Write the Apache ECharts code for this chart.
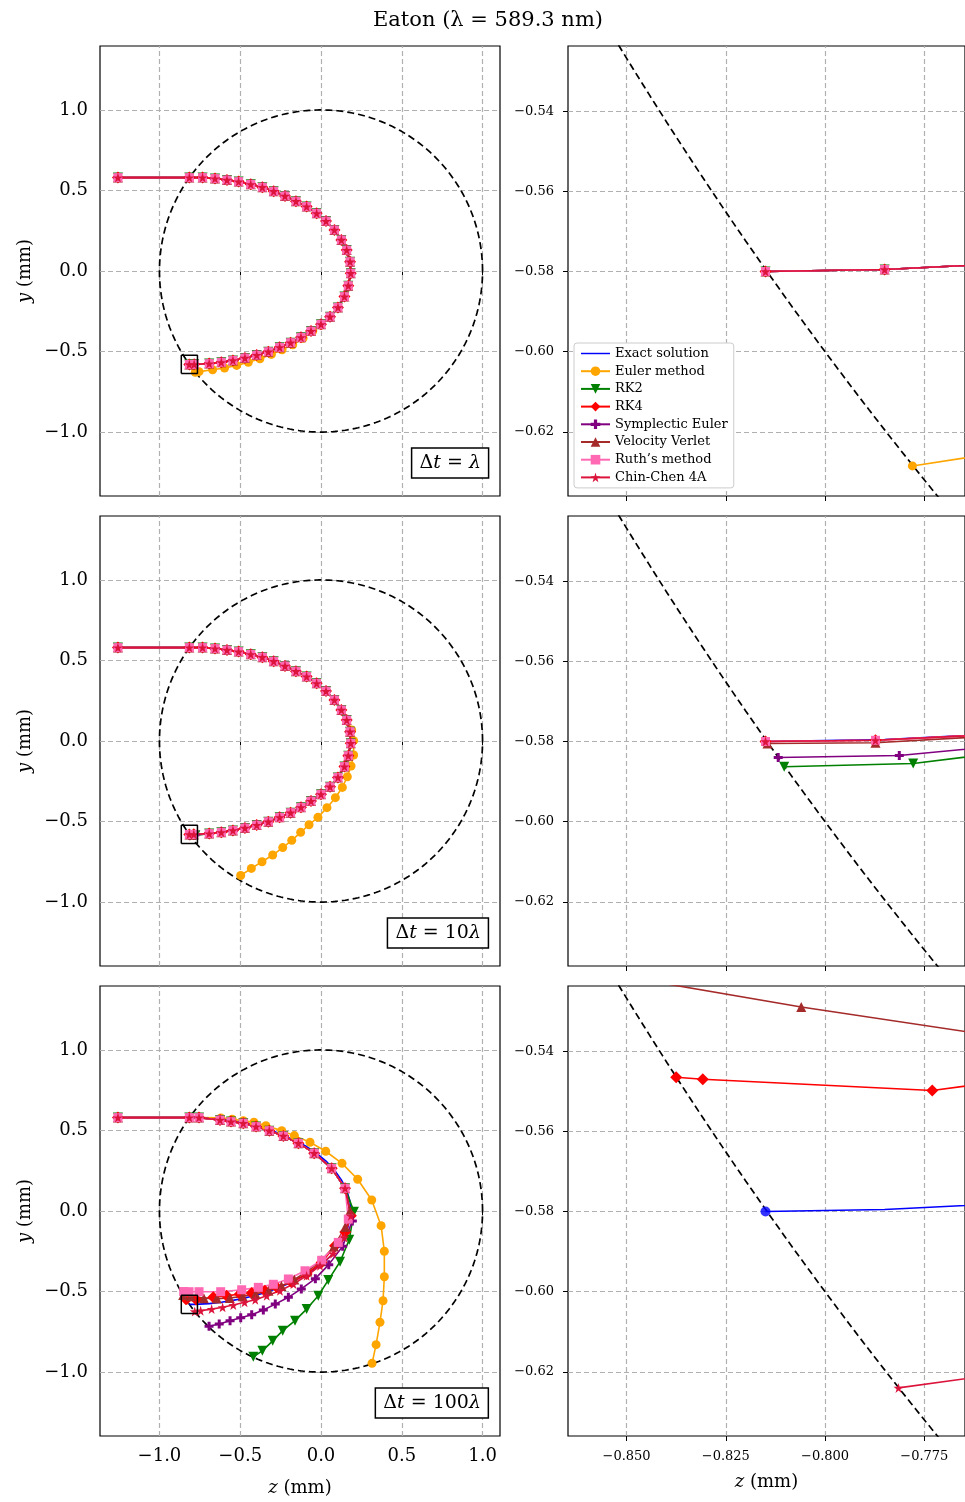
<!DOCTYPE html>
<html><head><meta charset="utf-8">
<script src="https://cdn.jsdelivr.net/npm/echarts@6/dist/echarts.min.js"></script>
<style>html,body{margin:0;padding:0;background:#fff}#c{width:965px;height:1502px}</style>
</head><body><div id="c"></div>
<script>
// ---------------- data ----------------
const METHOD_NAMES = ['Exact solution','Euler method','RK2','RK4','Symplectic Euler','Velocity Verlet','Ruth\u2019s method','Chin-Chen 4A'];
const METHOD_COLORS = ['#0000ff','#ffa500','#008000','#ff0000','#800080','#a52a2a','#ff69b4','#dc143c'];
const DT_LABELS = ['\u03bb','10\u03bb','100\u03bb'];

const LEFT_X_TICKS = [-1.0,-0.5,0.0,0.5,1.0];
const LEFT_Y_TICKS = [-1.0,-0.5,0.0,0.5,1.0];
const RIGHT_X_TICKS = [-0.850,-0.825,-0.800,-0.775];
const RIGHT_Y_TICKS = [-0.62,-0.60,-0.58,-0.56,-0.54];
const LEFT_X_RANGE = [-1.368, 1.108];
const LEFT_Y_RANGE = [-1.397, 1.397];
const ZOOM_Z = [-0.86475, -0.76475];
const ZOOM_Y = [-0.636, -0.52375];
const LENS_RADIUS = 1.0;

// common path, panels Δt=λ and Δt=10λ (up to the exit)
const P12_Z = [-1.257,-0.815,-0.733,-0.656,-0.582,-0.510,-0.435,-0.363,-0.293,-0.223,-0.155,-0.089,-0.027,0.031,0.083,0.126,0.159,0.180,0.184,0.169,0.145,0.105,0.056,0.000,-0.062,-0.124,-0.188,-0.256,-0.326,-0.398,-0.471,-0.545,-0.617,-0.692];
const P12_Y = [0.580,0.580,0.580,0.574,0.565,0.555,0.538,0.520,0.495,0.466,0.433,0.400,0.358,0.310,0.255,0.193,0.130,0.058,-0.014,-0.091,-0.159,-0.226,-0.284,-0.331,-0.373,-0.412,-0.445,-0.474,-0.501,-0.522,-0.540,-0.555,-0.567,-0.575];
// exit points
const EXACT_EXIT_Z = [-0.785,-0.815];   const EXACT_EXIT_Y = [-0.5795,-0.580];
const P2_EXIT_Z = [-0.7873,-0.815];     const P2_EXIT_Y = [-0.5797,-0.580];
const VV2_EXIT_Z = [-0.7873,-0.8145];   const VV2_EXIT_Y = [-0.5803,-0.5805];
const SE2_EXIT_Z = [-0.7813,-0.8118];   const SE2_EXIT_Y = [-0.5835,-0.5840];
const RK2_2_EXIT_Z = [-0.7778,-0.8103]; const RK2_2_EXIT_Y = [-0.5855,-0.5863];
// Euler tails
const E1_TAIL_Z = [0.000,-0.051,-0.111,-0.175,-0.241,-0.307,-0.378,-0.450,-0.522,-0.597,-0.671,-0.755,-0.778];
const E1_TAIL_Y = [-0.335,-0.373,-0.418,-0.458,-0.489,-0.518,-0.545,-0.567,-0.586,-0.602,-0.613,-0.625,-0.6285];
const E2_TAIL_Z = [0.160,0.190,0.202,0.202,0.186,0.163,0.132,0.089,0.037,-0.019,-0.074,-0.126,-0.181,-0.237,-0.299,-0.365,-0.431,-0.497];
const E2_TAIL_Y = [0.132,0.068,0.002,-0.087,-0.155,-0.222,-0.288,-0.352,-0.414,-0.474,-0.520,-0.567,-0.617,-0.662,-0.708,-0.750,-0.791,-0.835];
// panel Δt=100λ
const P3_TOP_Z = [-1.257,-0.815,-0.755,-0.625,-0.557,-0.481,-0.402,-0.320,-0.233,-0.140,-0.042,0.066,0.149];
const P3_TOP_Y = [0.580,0.580,0.580,0.565,0.555,0.545,0.524,0.499,0.466,0.421,0.359,0.265,0.141];
const E3_Z = [-1.257,-0.815,-0.755,-0.620,-0.550,-0.481,-0.415,-0.341,-0.243,-0.165,-0.068,0.029,0.130,0.227,0.314,0.372,0.392,0.392,0.384,0.365,0.341,0.316];
const E3_Y = [0.580,0.580,0.580,0.578,0.570,0.561,0.551,0.530,0.499,0.468,0.427,0.371,0.296,0.197,0.068,-0.091,-0.250,-0.408,-0.557,-0.691,-0.830,-0.946];
const RK2_3_TAIL_Z = [0.204,0.175,0.118,0.045,-0.017,-0.089,-0.161,-0.237,-0.299,-0.363,-0.419];
const RK2_3_TAIL_Y = [-0.004,-0.178,-0.315,-0.429,-0.526,-0.609,-0.681,-0.743,-0.806,-0.868,-0.905];
const RK4_3_TAIL_Z = [0.185,0.150,0.087,0.004,-0.089,-0.182,-0.274,-0.347,-0.429,-0.502,-0.584,-0.667,-0.773,-0.8308,-0.8375];
const RK4_3_TAIL_Y = [-0.030,-0.130,-0.215,-0.319,-0.391,-0.443,-0.474,-0.495,-0.509,-0.516,-0.526,-0.536,-0.5498,-0.547,-0.5465];
const SE3_TAIL_Z = [0.194,0.134,0.048,-0.035,-0.122,-0.202,-0.283,-0.357,-0.429,-0.497,-0.563,-0.630,-0.693];
const SE3_TAIL_Y = [-0.062,-0.219,-0.333,-0.420,-0.484,-0.536,-0.578,-0.615,-0.644,-0.663,-0.681,-0.702,-0.716];
const VV3_TAIL_Z = [0.180,0.150,0.080,0.000,-0.085,-0.165,-0.245,-0.325,-0.405,-0.485,-0.565,-0.645,-0.725,-0.806,-0.853];
const VV3_TAIL_Y = [0.000,-0.100,-0.220,-0.310,-0.375,-0.425,-0.465,-0.495,-0.515,-0.530,-0.540,-0.544,-0.541,-0.529,-0.521];
const RUTH3_TAIL_Z = [0.169,0.107,0.004,-0.099,-0.202,-0.295,-0.388,-0.491,-0.621,-0.755,-0.817,-0.850];
const RUTH3_TAIL_Y = [-0.050,-0.195,-0.306,-0.371,-0.422,-0.455,-0.474,-0.489,-0.501,-0.501,-0.501,-0.500];
const CC3_TAIL_Z = [0.185,0.145,0.075,-0.006,-0.089,-0.171,-0.254,-0.336,-0.407,-0.473,-0.543,-0.609,-0.677,-0.745,-0.7815];
const CC3_TAIL_Y = [-0.030,-0.165,-0.265,-0.340,-0.402,-0.453,-0.495,-0.526,-0.551,-0.567,-0.584,-0.598,-0.609,-0.619,-0.624];

// ---------------- build ----------------
const FONT = 'DejaVu Serif';
const PLUS = 'path://M1,0H2V1H3V2H2V3H1V2H0V1H1Z';
const STAR = 'path://M50,0L61,35L98,35L68,57L79,91L50,70L21,91L32,57L2,35L39,35Z';
const METHOD_SYMBOLS = ['none','circle','triangle','diamond',PLUS,'triangle','rect',STAR];
const SYMBOL_SIZES = [0,9,10,12,9,10,9,10];
const SYMBOL_ROTATE = [0,0,180,0,0,0,0,0];

const zip = (zs, ys) => zs.map((z, i) => [z, ys[i]]);
const join = (az, ay, bz, by) => zip(az.concat(bz), ay.concat(by));

const exact = join(P12_Z, P12_Y, EXACT_EXIT_Z, EXACT_EXIT_Y);
const PANEL_DATA = [
  [exact,
   join(P12_Z.slice(0,23), P12_Y.slice(0,23), E1_TAIL_Z, E1_TAIL_Y),
   exact, exact, exact, exact, exact, exact],
  [exact,
   join(P12_Z.slice(0,16), P12_Y.slice(0,16), E2_TAIL_Z, E2_TAIL_Y),
   join(P12_Z, P12_Y, RK2_2_EXIT_Z, RK2_2_EXIT_Y),
   join(P12_Z, P12_Y, P2_EXIT_Z, P2_EXIT_Y),
   join(P12_Z, P12_Y, SE2_EXIT_Z, SE2_EXIT_Y),
   join(P12_Z, P12_Y, VV2_EXIT_Z, VV2_EXIT_Y),
   join(P12_Z, P12_Y, P2_EXIT_Z, P2_EXIT_Y),
   join(P12_Z, P12_Y, P2_EXIT_Z, P2_EXIT_Y)],
  [exact,
   zip(E3_Z, E3_Y),
   join(P3_TOP_Z, P3_TOP_Y, RK2_3_TAIL_Z, RK2_3_TAIL_Y),
   join(P3_TOP_Z, P3_TOP_Y, RK4_3_TAIL_Z, RK4_3_TAIL_Y),
   join(P3_TOP_Z, P3_TOP_Y, SE3_TAIL_Z, SE3_TAIL_Y),
   join(P3_TOP_Z, P3_TOP_Y, VV3_TAIL_Z, VV3_TAIL_Y),
   join(P3_TOP_Z, P3_TOP_Y, RUTH3_TAIL_Z, RUTH3_TAIL_Y),
   join(P3_TOP_Z, P3_TOP_Y, CC3_TAIL_Z, CC3_TAIL_Y)]
];

// lens boundary (geometry, radius 1)
const circle = [];
const NSEG = 3000;
for (let i = 0; i <= NSEG; i++) {
  const a = 2 * Math.PI * i / NSEG;
  circle.push([LENS_RADIUS * Math.cos(a), LENS_RADIUS * Math.sin(a)]);
}

const ROW_TOPS = [46, 516, 986];
const ROW_H = 450;
const grids = [], xAxes = [], yAxes = [], series = [];
const fmt = d => v => (v < 0 ? '\u2212' : '') + Math.abs(v).toFixed(d);
const nameStyle = size => ({color:'#000', fontFamily:FONT, fontSize:size,
  rich:{i:{fontStyle:'italic', fontFamily:FONT, fontSize:size, color:'#000'}, n:{fontFamily:FONT, fontSize:size, color:'#000'}}});

for (let side = 0; side < 2; side++) {
  for (let r = 0; r < 3; r++) {
    const left = side === 0;
    grids.push({left: left ? 100 : 568, top: ROW_TOPS[r], width: 400, height: ROW_H,
      show: true, borderColor: '#000', borderWidth: 1.2, backgroundColor: 'rgba(0,0,0,0)'});
    const xr = left ? LEFT_X_RANGE : ZOOM_Z;
    const yr = left ? LEFT_Y_RANGE : ZOOM_Y;
    const xt = left ? LEFT_X_TICKS : RIGHT_X_TICKS;
    const yt = left ? LEFT_Y_TICKS : RIGHT_Y_TICKS;
    const g = side * 3 + r;
    xAxes.push({gridIndex: g, type: 'value', min: xr[0], max: xr[1],
      axisLine: {show: false}, splitLine: {show: false},
      axisTick: {show: true, length: 5, lineStyle: {color: '#000', width: 1}, customValues: xt},
      axisLabel: {show: r === 2, customValues: xt, formatter: fmt(left ? 1 : 3), color: '#000',
        fontFamily: FONT, fontSize: left ? 18 : 13, margin: left ? 11 : 14},
      name: r === 2 ? '{i|z}{n| (mm)}' : '', nameLocation: 'middle', nameGap: left ? 43 : 37,
      nameTextStyle: nameStyle(18)});
    yAxes.push({gridIndex: g, type: 'value', min: yr[0], max: yr[1],
      axisLine: {show: false}, splitLine: {show: false},
      axisTick: {show: true, length: 5, lineStyle: {color: '#000', width: 1}, customValues: yt},
      axisLabel: {show: true, customValues: yt, formatter: fmt(left ? 1 : 2), color: '#000',
        fontFamily: FONT, fontSize: left ? 18 : 13, margin: left ? 12 : 14},
      name: left ? '{i|y}{n| (mm)}' : '', nameLocation: 'middle', nameGap: 66, nameRotate: 90,
      nameTextStyle: nameStyle(18)});

    // dashed grid lines
    series.push({type: 'lines', coordinateSystem: 'cartesian2d', xAxisIndex: g, yAxisIndex: g,
      silent: true, z: 1, animation: false,
      lineStyle: {color: '#b0b0b0', width: 1.2, type: [5, 3], opacity: 1},
      data: xt.map(x => ({coords: [[x, yr[0]], [x, yr[1]]]}))
        .concat(yt.map(y => ({coords: [[xr[0], y], [xr[1], y]]})))});
    // lens boundary
    series.push({type: 'line', xAxisIndex: g, yAxisIndex: g, data: circle, showSymbol: false,
      silent: true, z: 2, clip: true, animation: false,
      lineStyle: {color: '#000', width: 1.7, type: [7, 4]}});
    // methods
    PANEL_DATA[r].forEach((d, m) => {
      series.push({type: 'line', name: METHOD_NAMES[m], xAxisIndex: g, yAxisIndex: g, data: d,
        symbol: METHOD_SYMBOLS[m], symbolSize: SYMBOL_SIZES[m], symbolRotate: SYMBOL_ROTATE[m],
        showSymbol: m !== 0, clip: true, z: 3, animation: false, silent: true,
        color: METHOD_COLORS[m],
        lineStyle: {color: METHOD_COLORS[m], width: 1.6},
        itemStyle: {color: METHOD_COLORS[m], borderWidth: 0}});
    });
    if (r === 2 && !left) {
      const last = exact[exact.length - 1];
      series.push({type: 'scatter', xAxisIndex: g, yAxisIndex: g, data: [last], symbolSize: 10,
        itemStyle: {color: METHOD_COLORS[0]}, z: 4, silent: true, animation: false});
    }
    if (left) {
      series.push({type: 'line', xAxisIndex: g, yAxisIndex: g, showSymbol: false, silent: true,
        z: 5, animation: false, lineStyle: {color: '#000', width: 1.5},
        data: [[ZOOM_Z[0], ZOOM_Y[0]], [ZOOM_Z[1], ZOOM_Y[0]], [ZOOM_Z[1], ZOOM_Y[1]], [ZOOM_Z[0], ZOOM_Y[1]], [ZOOM_Z[0], ZOOM_Y[0]]]});
    }
  }
}

const BOX_TOPS = [448, 918, 1388];
const titles = [{text: 'Eaton (\u03bb = 589.3 nm)', left: 368, top: 5,
  textStyle: {fontFamily: FONT, fontSize: 21, fontWeight: 'normal', color: '#000'}}];
DT_LABELS.forEach((lab, r) => {
  titles.push({text: '{n|\u0394}{i|t}{n| = ' + lab.replace('\u03bb', '') + '}{i|\u03bb}',
    right: 965 - 489, top: BOX_TOPS[r], borderColor: '#000', borderWidth: 1.5,
    backgroundColor: '#fff', padding: [6, 8, 5, 8],
    textStyle: {fontFamily: FONT, fontSize: 19, fontWeight: 'normal', color: '#000',
      rich: {n: {fontFamily: FONT, fontSize: 19, color: '#000'},
             i: {fontFamily: FONT, fontSize: 19, fontStyle: 'italic', color: '#000'}}}});
});

const legendData = METHOD_NAMES.map((n, i) => i === 0 ? {name: n, icon: 'path://M0,0H20V1H0Z'} : {name: n});

const chart = echarts.init(document.getElementById('c'), null, {renderer: 'canvas'});
chart.setOption({
  animation: false,
  backgroundColor: '#fff',
  title: titles,
  grid: grids, xAxis: xAxes, yAxis: yAxes,
  legend: {data: legendData, orient: 'vertical', left: 574, top: 343,
    padding: [4, 6, 4, 6], itemGap: 4.7, itemWidth: 29, itemHeight: 12,
    backgroundColor: '#fff', borderColor: '#cccccc', borderWidth: 1, borderRadius: 3,
    selectedMode: false,
    textStyle: {fontFamily: FONT, fontSize: 13, color: '#000', lineHeight: 12}},
  series: series
});
</script></body></html>
